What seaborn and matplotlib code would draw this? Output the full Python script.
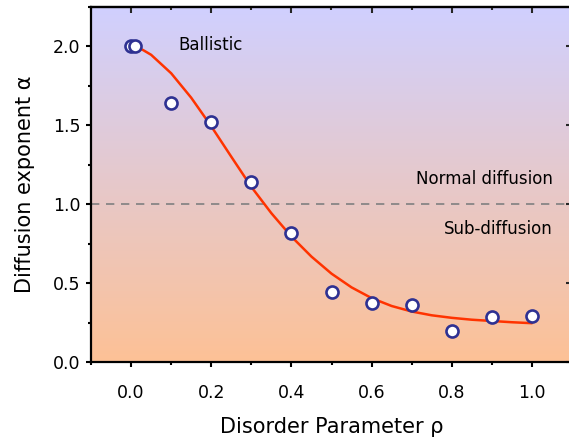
import numpy as np
import pandas as pd
import seaborn as sns
import matplotlib.pyplot as plt
from matplotlib.colors import LinearSegmentedColormap
from matplotlib.ticker import MultipleLocator

# measured points
rho = [0.0, 0.01, 0.1, 0.2, 0.3, 0.4, 0.5, 0.6, 0.7, 0.8, 0.9, 1.0]
alpha = [2.0, 2.0, 1.64, 1.52, 1.14, 0.82, 0.445, 0.375, 0.36, 0.195, 0.288, 0.292]

# fitted curve
fit_rho = [0.01, 0.03, 0.05, 0.10, 0.15, 0.20, 0.25, 0.30, 0.35, 0.40, 0.45,
           0.50, 0.55, 0.60, 0.65, 0.70, 0.75, 0.80, 0.85, 0.90, 0.95, 1.00]
fit_alpha = [2.00, 1.977, 1.947, 1.83, 1.675, 1.494, 1.301, 1.11, 0.943, 0.795, 0.668,
             0.56, 0.473, 0.405, 0.355, 0.32, 0.296, 0.28, 0.268, 0.26, 0.252, 0.246]

points = pd.DataFrame({"rho": rho, "alpha": alpha})
fit = pd.DataFrame({"rho": fit_rho, "alpha": fit_alpha})

sns.set_theme(style="ticks")
plt.rcParams['font.family'] = ['DejaVu Sans']
plt.rcParams['text.color'] = 'black'
plt.rcParams['axes.labelcolor'] = 'black'

fig = plt.figure(figsize=(5.69, 4.45), dpi=100)
ax = fig.add_axes([91 / 569, 83 / 445, 481 / 569, 355 / 445])

xmin, xmax, ymin, ymax = -0.1, 1.1, 0.0, 2.25

# background gradient, peach at bottom to lavender at top
cmap = LinearSegmentedColormap.from_list("bg", ["#FDC196", "#D0D0FF"])
grad = np.linspace(0, 1, 256).reshape(-1, 1)
ax.imshow(grad, cmap=cmap, extent=[xmin, xmax, ymin, ymax], aspect="auto",
          origin="lower", zorder=0)

ax.axhline(1.0, color="#808080", lw=1.2, ls=(0, (5, 4)), zorder=1)

sns.lineplot(data=fit, x="rho", y="alpha", color="#FF3300", lw=1.8, ax=ax, zorder=2)
sns.scatterplot(data=points, x="rho", y="alpha", s=75, color="white",
                edgecolor="#2E3192", linewidth=1.9, ax=ax, zorder=3)

ax.text(0.117, 2.01, "Ballistic", fontsize=12, va="center", ha="left", color="black")
ax.text(1.052, 1.16, "Normal diffusion", fontsize=12, va="center", ha="right", color="black")
ax.text(1.052, 0.845, "Sub-diffusion", fontsize=12, va="center", ha="right", color="black")

ax.set_xlim(xmin, xmax)
ax.set_ylim(ymin, ymax)
ax.xaxis.set_major_locator(MultipleLocator(0.2))
ax.xaxis.set_minor_locator(MultipleLocator(0.1))
ax.yaxis.set_major_locator(MultipleLocator(0.5))
ax.yaxis.set_minor_locator(MultipleLocator(0.25))
ax.set_xticks([0.0, 0.2, 0.4, 0.6, 0.8, 1.0])
ax.set_xticklabels(["0.0", "0.2", "0.4", "0.6", "0.8", "1.0"])
ax.set_yticks([0.0, 0.5, 1.0, 1.5, 2.0])
ax.set_yticklabels(["0.0", "0.5", "1.0", "1.5", "2.0"])

ax.tick_params(which="both", direction="out", top=False, right=False,
               labelsize=12.5, width=1.5, color="black", labelcolor="black")
ax.tick_params(which="major", length=3.5)
ax.tick_params(which="minor", length=2.5)
ax.tick_params(axis="x", which="major", pad=12)
ax.tick_params(axis="y", which="major", pad=4)

# mirrored inward ticks on top/right
secx = ax.secondary_xaxis("top")
secx.xaxis.set_major_locator(MultipleLocator(0.2))
secx.xaxis.set_minor_locator(MultipleLocator(0.1))
secx.tick_params(which="both", direction="in", labeltop=False, width=1.5)
secx.tick_params(which="major", length=4)
secx.tick_params(which="minor", length=2.5)
secy = ax.secondary_yaxis("right")
secy.yaxis.set_major_locator(MultipleLocator(0.5))
secy.yaxis.set_minor_locator(MultipleLocator(0.25))
secy.tick_params(which="both", direction="in", labelright=False, width=1.5)
secy.tick_params(which="major", length=4)
secy.tick_params(which="minor", length=2.5)

for sp in ax.spines.values():
    sp.set_linewidth(1.6)
    sp.set_color("black")
secx.spines["top"].set_linewidth(1.6)
secy.spines["right"].set_linewidth(1.6)

ax.set_xlabel("Disorder Parameter ρ", fontsize=15, labelpad=11)
ax.set_ylabel("Diffusion exponent α", fontsize=15, labelpad=13)

fig.savefig("out.png", dpi=100)
